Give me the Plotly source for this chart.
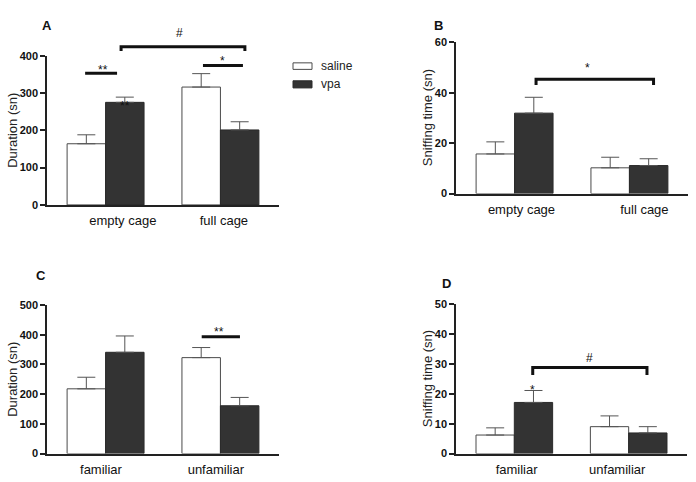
import plotly.graph_objects as go

# ---------------- data ----------------
A_categories = ["empty cage", "full cage"]
A_saline = [164, 316]
A_saline_err = [24, 36]
A_vpa = [275, 201]
A_vpa_err = [14, 22]

B_categories = ["empty cage", "full cage"]
B_saline = [15.7, 10.2]
B_saline_err = [4.8, 4.2]
B_vpa = [31.9, 11.1]
B_vpa_err = [6.3, 2.7]

C_categories = ["familiar", "unfamiliar"]
C_saline = [218, 323]
C_saline_err = [39, 34]
C_vpa = [341, 161]
C_vpa_err = [55, 28]

D_categories = ["familiar", "unfamiliar"]
D_saline = [6.2, 9.0]
D_saline_err = [2.4, 3.6]
D_vpa = [17.1, 6.9]
D_vpa_err = [4.0, 2.1]

series_names = ["saline", "vpa"]
y_titles = ["Duration (sn)", "Sniffing time (sn)", "Duration (sn)", "Sniffing time (sn)"]
panel_letters = ["A", "B", "C", "D"]

# ---------------- layout helpers ----------------
W, H = 696, 482
FONT = "Liberation Sans, Arial, sans-serif"
SALINE_FILL = "#ffffff"
VPA_FILL = "#333333"
EDGE = "#4a4a4a"
AXIS = "#222222"


def px_x(p):
    return p / W


def px_y(p):
    return 1 - p / H


panels = [
    dict(cats=A_categories, sal=A_saline, sal_e=A_saline_err, vpa=A_vpa, vpa_e=A_vpa_err,
         xdom=[px_x(47), px_x(279)], ydom=[px_y(204), px_y(51)], yr=[0, 400], dtick=100,
         label_shift=[0.15, 0.03]),
    dict(cats=B_categories, sal=B_saline, sal_e=B_saline_err, vpa=B_vpa, vpa_e=B_vpa_err,
         xdom=[px_x(456), px_x(688)], ydom=[px_y(192.3), px_y(37.3)], yr=[0, 60], dtick=20,
         label_shift=[0.06, 0.13]),
    dict(cats=C_categories, sal=C_saline, sal_e=C_saline_err, vpa=C_vpa, vpa_e=C_vpa_err,
         xdom=[px_x(47), px_x(279)], ydom=[px_y(459), px_y(306.7)], yr=[0, 500], dtick=100,
         label_shift=[-0.04, -0.04]),
    dict(cats=D_categories, sal=D_saline, sal_e=D_saline_err, vpa=D_vpa, vpa_e=D_vpa_err,
         xdom=[px_x(456), px_x(687)], ydom=[px_y(459), px_y(305.7)], yr=[0, 50], dtick=10,
         label_shift=[0.02, -0.1]),
]
XR = [-0.51, 1.51]

fig = go.Figure()
shapes = []
annotations = []

for i, p in enumerate(panels):
    k = "" if i == 0 else str(i + 1)
    xa, ya = "x" + k, "y" + k
    pos = list(range(len(p["cats"])))
    fig.add_trace(go.Bar(
        x=pos, y=p["sal"], name=series_names[0], xaxis=xa, yaxis=ya, offsetgroup="s",
        marker=dict(color=SALINE_FILL, line=dict(color=EDGE, width=1)),
        error_y=dict(type="data", array=p["sal_e"], arrayminus=[0] * len(pos), symmetric=False,
                     color="#555555", thickness=1, width=9),
        showlegend=False))
    fig.add_trace(go.Bar(
        x=pos, y=p["vpa"], name=series_names[1], xaxis=xa, yaxis=ya, offsetgroup="v",
        marker=dict(color=VPA_FILL, line=dict(color="#2a2a2a", width=1)),
        error_y=dict(type="data", array=p["vpa_e"], arrayminus=[0] * len(pos), symmetric=False,
                     color="#555555", thickness=1, width=9),
        showlegend=False))
    fig.layout["xaxis" + k] = dict(
        domain=p["xdom"], range=XR, anchor=ya, showgrid=False, zeroline=False,
        showline=True, linecolor=AXIS, linewidth=1.5,
        tickvals=[q + s for q, s in zip(pos, p["label_shift"])], ticktext=p["cats"],
        ticks="outside", ticklen=3, tickcolor="rgba(0,0,0,0)",
        tickfont=dict(family=FONT, size=13, color="#111111"), fixedrange=True)
    fig.layout["yaxis" + k] = dict(
        domain=p["ydom"], range=p["yr"], anchor=xa, showgrid=False, zeroline=False,
        showline=True, linecolor=AXIS, linewidth=1.5, dtick=p["dtick"], tick0=0,
        ticks="outside", ticklen=5, tickwidth=1.5, tickcolor=AXIS,
        tickfont=dict(family=FONT, size=11, color="#111111", weight="bold"), fixedrange=True)

    # y-axis title (as rotated annotation)
    ymid = (p["ydom"][0] + p["ydom"][1]) / 2
    tx = 12.5 if i in (0, 2) else 428.3
    annotations.append(dict(xref="paper", yref="paper", x=px_x(tx), y=ymid, text=y_titles[i],
                            textangle=-90, showarrow=False, xanchor="center", yanchor="middle",
                            font=dict(family=FONT, size=13, color="#222222")))


def conv(i, xv, yv):
    p = panels[i]
    x = p["xdom"][0] + (xv - XR[0]) / (XR[1] - XR[0]) * (p["xdom"][1] - p["xdom"][0])
    y = p["ydom"][0] + (yv - p["yr"][0]) / (p["yr"][1] - p["yr"][0]) * (p["ydom"][1] - p["ydom"][0])
    return x, y


def sig_line(i, x0, x1, y):
    a0, b = conv(i, x0, y)
    a1, _ = conv(i, x1, y)
    shapes.append(dict(type="line", xref="paper", yref="paper", x0=a0, x1=a1, y0=b, y1=b,
                       line=dict(color="#111111", width=3)))


def bracket(i, x0, x1, ytop, ybot):
    a0, b0 = conv(i, x0, ytop)
    a1, b1 = conv(i, x1, ybot)
    path = f"M{a0},{b1} L{a0},{b0} L{a1},{b0} L{a1},{b1}"
    shapes.append(dict(type="path", xref="paper", yref="paper", path=path,
                       line=dict(color="#111111", width=3)))


def sig_text(i, x, y, t, shift=0):
    a, b = conv(i, x, y)
    annotations.append(dict(xref="paper", yref="paper", x=a, y=b, text=t, showarrow=False,
                            xanchor="center", yanchor="middle", yshift=shift,
                            font=dict(family=FONT, size=12, color="#111111")))


# Panel A
sig_line(0, -0.178, 0.10, 353)
sig_text(0, -0.026, 370, "**", -3)
sig_text(0, 0.17, 272, "**", -3)
sig_line(0, 0.848, 1.196, 374)
sig_text(0, 1.019, 394, "*", -3)
bracket(0, 0.135, 1.213, 424, 413)
sig_text(0, 0.648, 462, "#")
# Panel B
bracket(1, 0.187, 1.21, 45.4, 43.1)
sig_text(1, 0.633, 51.2, "*", -3)
# Panel C
sig_line(2, 0.837, 1.17, 393)
sig_text(2, 0.99, 418, "**", -3)
# Panel D
bracket(3, 0.161, 1.16, 28.8, 26.3)
sig_text(3, 0.654, 32, "#")
sig_text(3, 0.161, 22.3, "*", -3)

# panel letters
for (lx, ly), t in zip([(46.7, 20.5), (438.3, 19.5), (41.3, 276.7), (446.2, 285)], panel_letters):
    annotations.append(dict(xref="paper", yref="paper", x=px_x(lx), y=px_y(ly), text=t,
                            showarrow=False, xanchor="center", yanchor="middle",
                            font=dict(family=FONT, size=13, color="#111111", weight="bold")))

# manual legend
legend_items = [(series_names[0], SALINE_FILL, EDGE, 58.3, 65), (series_names[1], VPA_FILL, "#2a2a2a", 76.7, 84)]
for name, fill, edge, t, b in legend_items:
    shapes.append(dict(type="rect", xref="paper", yref="paper", x0=px_x(293), x1=px_x(312),
                       y0=px_y(b), y1=px_y(t), fillcolor=fill, line=dict(color=edge, width=1)))
    annotations.append(dict(xref="paper", yref="paper", x=px_x(319), y=px_y((t + b) / 2), text=name,
                            showarrow=False, xanchor="left", yanchor="middle",
                            font=dict(family=FONT, size=12, color="#222222")))

fig.update_layout(
    width=W, height=H, margin=dict(l=0, r=0, t=0, b=0),
    paper_bgcolor="white", plot_bgcolor="white",
    barmode="group", bargap=0.33, bargroupgap=0,
    shapes=shapes, annotations=annotations, showlegend=False,
    font=dict(family=FONT),
)

fig.write_html("out.html", config={"displayModeBar": False},
               post_script="document.body.style.margin='0';document.body.style.overflow='hidden';")
